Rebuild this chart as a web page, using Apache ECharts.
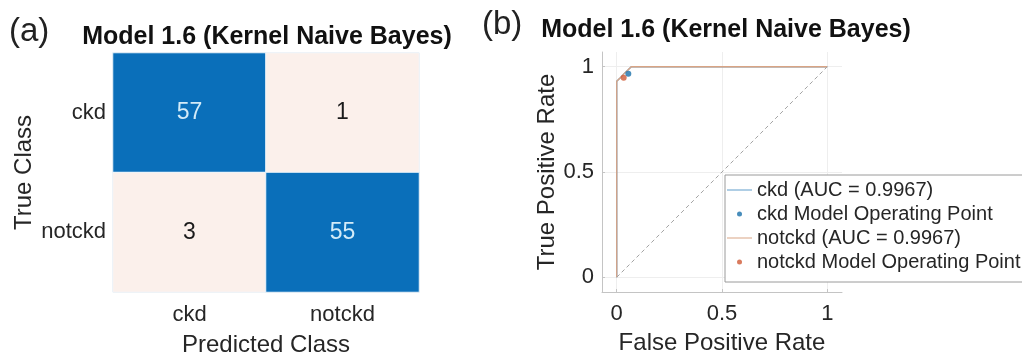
<!DOCTYPE html>
<html>
<head>
<meta charset="utf-8">
<script src="https://cdn.jsdelivr.net/npm/echarts@6/dist/echarts.min.js"></script>
<style>html,body{margin:0;padding:0;background:#fff;}#c{width:1022px;height:356px;}</style>
</head>
<body>
<div id="c"></div>
<script>
// ---- data ----
const classes = ['ckd', 'notckd'];
// rows = true class, columns = predicted class
const confusion = [[57, 1], [3, 55]];
const rocTicks = [0, 0.5, 1];
const ckdFPR = [0, 0, 0.017, 0.034, 0.052, 0.069, 1];
const ckdTPR = [0, 0.931, 0.948, 0.966, 0.983, 1, 1];
const notckdFPR = [0, 0, 0.017, 0.034, 0.052, 0.069, 1];
const notckdTPR = [0, 0.931, 0.948, 0.966, 0.983, 1, 1];
const ckdOp = [0.055, 0.967];
const notckdOp = [0.033, 0.948];
const chanceFPR = [0, 1];
const chanceTPR = [0, 1];
const ckdAUC = '0.9967';
const notckdAUC = '0.9967';
const titleText = 'Model 1.6 (Kernel Naive Bayes)';

// ---- build ----
const FONT = '"Liberation Sans", Arial, Helvetica, sans-serif';
const heatData = [];
confusion.forEach((row, r) => row.forEach((v, c) => heatData.push([c, r, v])));
const zip = (a, b) => a.map((v, i) => [v, b[i]]);
const ckdName = 'ckd (AUC = ' + ckdAUC + ')';
const notckdName = 'notckd (AUC = ' + notckdAUC + ')';
const BLUE_L = '#5f9dca', ORANGE_L = '#d9a484';
const BLUE_D = '#1a70aa', RED_D = '#cf5a36';
const lineIcon = 'path://M0,0L25,0L25,1L0,1Z';

const chart = echarts.init(document.getElementById('c'), null, {renderer: 'canvas'});
chart.setOption({
  backgroundColor: '#fff',
  animation: false,
  textStyle: {fontFamily: FONT},
  graphic: [
    {type: 'text', left: 9, top: 15, style: {text: '(a)', font: '33px ' + FONT, fill: '#222'}},
    {type: 'text', left: 482, top: 8, style: {text: '(b)', font: '33px ' + FONT, fill: '#222'}},
    {type: 'text', x: 267, y: 37, style: {text: titleText, font: 'bold 25px ' + FONT, fill: '#111', align: 'center', verticalAlign: 'middle'}},
    {type: 'text', x: 726, y: 30, style: {text: titleText, font: 'bold 25px ' + FONT, fill: '#111', align: 'center', verticalAlign: 'middle'}}
  ],
  grid: [
    {left: 113, right: 603, top: 53, bottom: 64, outerBoundsMode: 'none', containLabel: false,
     show: true, borderColor: '#d4d4d4', borderWidth: 1, backgroundColor: 'transparent'},
    {left: 602, right: 180, top: 52, bottom: 64, outerBoundsMode: 'none', containLabel: false}
  ],
  xAxis: [
    {type: 'category', gridIndex: 0, data: classes, position: 'bottom',
     axisLine: {show: false}, axisTick: {show: false}, splitLine: {show: false},
     axisLabel: {fontSize: 22, color: '#262626', margin: 12, fontFamily: FONT},
     name: 'Predicted Class', nameLocation: 'middle', nameGap: 41,
     nameTextStyle: {fontSize: 24, color: '#262626', fontFamily: FONT}},
    {type: 'value', gridIndex: 1, min: -0.07, max: 1.07,
     axisLine: {show: true, onZero: false, lineStyle: {color: '#c4c4c4', width: 1}},
     axisTick: {show: true, inside: true, length: 3, customValues: rocTicks, lineStyle: {color: '#c4c4c4'}},
     axisLabel: {customValues: rocTicks, fontSize: 22, color: '#262626', margin: 11, fontFamily: FONT},
     splitLine: {show: true, lineStyle: {color: '#eeeeee', width: 1}},
     name: 'False Positive Rate', nameLocation: 'middle', nameGap: 39,
     nameTextStyle: {fontSize: 24, color: '#262626', fontFamily: FONT}}
  ],
  yAxis: [
    {type: 'category', gridIndex: 0, data: classes, inverse: true,
     axisLine: {show: false}, axisTick: {show: false}, splitLine: {show: false},
     axisLabel: {fontSize: 22, color: '#262626', margin: 7, fontFamily: FONT},
     name: 'True Class', nameLocation: 'middle', nameGap: 77,
     nameTextStyle: {fontSize: 24, color: '#262626', fontFamily: FONT}},
    {type: 'value', gridIndex: 1, min: -0.07, max: 1.07,
     axisLine: {show: true, onZero: false, lineStyle: {color: '#c4c4c4', width: 1}},
     axisTick: {show: true, inside: true, length: 3, customValues: rocTicks, lineStyle: {color: '#c4c4c4'}},
     axisLabel: {customValues: rocTicks, fontSize: 22, color: '#262626', margin: 8, fontFamily: FONT},
     splitLine: {show: true, lineStyle: {color: '#eeeeee', width: 1}},
     name: 'True Positive Rate', nameLocation: 'middle', nameGap: 40,
     nameTextStyle: {fontSize: 24, color: '#262626', fontFamily: FONT}}
  ],
  visualMap: {
    type: 'piecewise', show: false, seriesIndex: 0, dimension: 2,
    pieces: [{min: 0, max: 9.99, color: '#fbf0eb'}, {min: 10, max: 1000, color: '#0a6fba'}]
  },
  legend: {
    orient: 'vertical', left: 725, top: 175,
    padding: [3, 4, 8, 2], itemGap: 0, itemWidth: 25, itemHeight: 5,
    borderColor: '#9a9a9a', borderWidth: 1, backgroundColor: '#fff',
    textStyle: {fontSize: 20, color: '#262626', lineHeight: 24, fontFamily: FONT},
    selectedMode: false,
    data: [
      {name: ckdName, icon: lineIcon},
      {name: 'ckd Model Operating Point', icon: 'circle'},
      {name: notckdName, icon: lineIcon},
      {name: 'notckd Model Operating Point', icon: 'circle'}
    ]
  },
  series: [
    {type: 'heatmap', xAxisIndex: 0, yAxisIndex: 0, data: heatData,
     itemStyle: {borderColor: '#eef6fc', borderWidth: 1},
     label: {show: true, fontFamily: FONT,
       formatter: p => (p.value[2] >= 10 ? '{hi|' : '{lo|') + p.value[2] + '}',
       rich: {hi: {fontSize: 23, color: '#d3ebf8', fontFamily: FONT}, lo: {fontSize: 23, color: '#1a1a1a', fontFamily: FONT}}},
     emphasis: {disabled: true}},
    {type: 'line', name: 'chance', xAxisIndex: 1, yAxisIndex: 1, data: zip(chanceFPR, chanceTPR),
     showSymbol: false, silent: true, lineStyle: {color: '#a3a3a3', width: 1, type: [4, 3]}, z: 1},
    {type: 'line', name: ckdName, xAxisIndex: 1, yAxisIndex: 1, data: zip(ckdFPR, ckdTPR),
     showSymbol: false, color: BLUE_L, lineStyle: {color: BLUE_L, width: 1.3}, z: 2},
    {type: 'line', name: notckdName, xAxisIndex: 1, yAxisIndex: 1, data: zip(notckdFPR, notckdTPR),
     showSymbol: false, color: ORANGE_L, lineStyle: {color: ORANGE_L, width: 1.3}, z: 3},
    {type: 'scatter', name: 'ckd Model Operating Point', xAxisIndex: 1, yAxisIndex: 1, data: [ckdOp],
     symbol: 'circle', symbolSize: 6, color: BLUE_D, itemStyle: {color: BLUE_D}, z: 5},
    {type: 'scatter', name: 'notckd Model Operating Point', xAxisIndex: 1, yAxisIndex: 1, data: [notckdOp],
     symbol: 'circle', symbolSize: 6, color: RED_D, itemStyle: {color: RED_D}, z: 5}
  ]
});
</script>
</body>
</html>
